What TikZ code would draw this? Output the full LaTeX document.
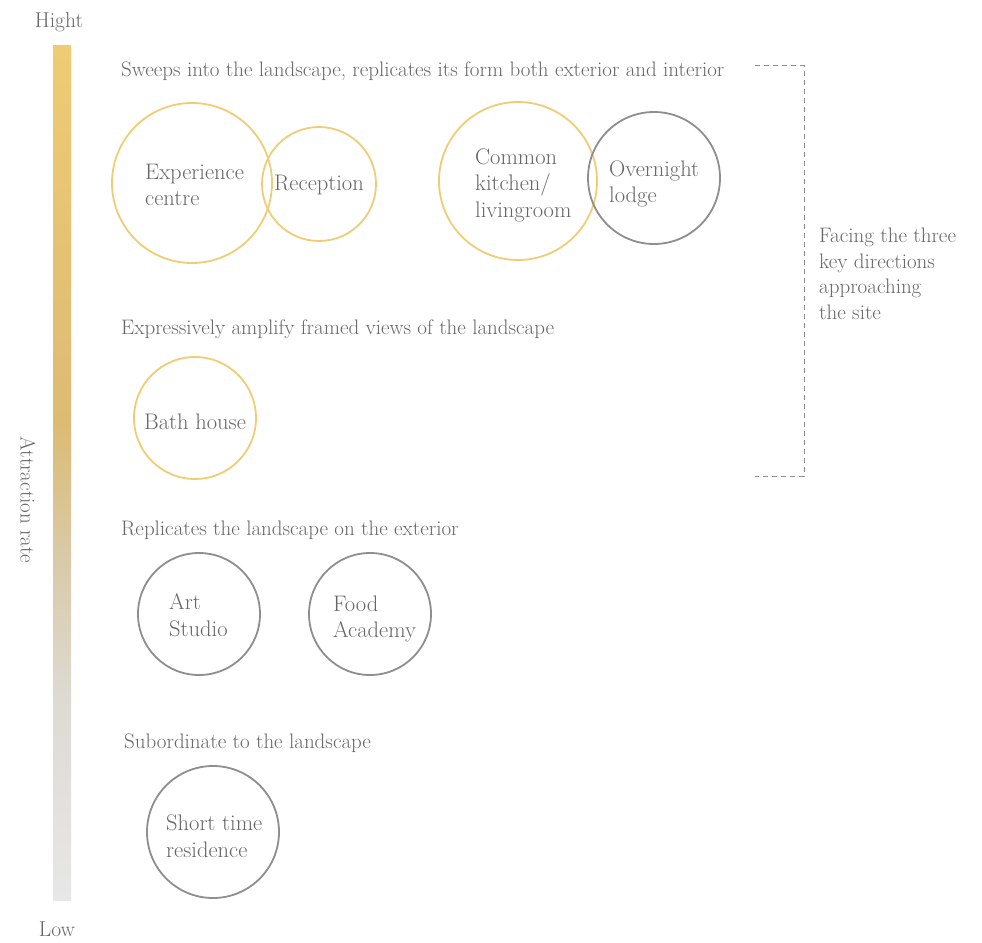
\documentclass[tikz,border=0pt]{standalone}
\usepackage{fontspec}
\definecolor{ylw}{HTML}{F0CD75}
\definecolor{gry}{HTML}{8E8E8E}
\definecolor{txt}{HTML}{666666}
\definecolor{bartop}{HTML}{F0CB74}
\definecolor{barmid}{HTML}{DCBB73}
\definecolor{barlow}{HTML}{D9CAA8}
\definecolor{barlow2}{HTML}{DDDAD2}
\definecolor{barbot}{HTML}{E7E7E7}
\pgfdeclareverticalshading{barshade}{100bp}{color(0bp)=(barbot); color(25bp)=(barbot); color(37bp)=(barlow2); color(45bp)=(barlow); color(53bp)=(barmid); color(75bp)=(bartop); color(100bp)=(bartop)}
\tikzset{
  ring/.style={circle, draw=ylw, line width=1.8pt, inner sep=0pt},
  gring/.style={circle, draw=gry, line width=1.8pt, inner sep=0pt},
  lbl/.style={text=txt, font=\fontsize{22.5}{26.5}\selectfont, align=left, inner sep=0pt},
  head/.style={text=txt, font=\fontsize{21}{24}\selectfont, anchor=west, inner sep=0pt},
}
\begin{document}
\begin{tikzpicture}[x=1pt,y=-1pt]
\useasboundingbox (0,0) rectangle (982,942);
% bar
\shade[shading=barshade] (53,46) rectangle (71,900);
\node[text=txt, font=\fontsize{21.5}{24}\selectfont, inner sep=0pt] (hi) at (59,22) {Hight};
\node[text=txt, font=\fontsize{21.5}{24}\selectfont, inner sep=0pt] (lo) at (57,929) {Low};
\node[text=txt, font=\fontsize{21}{24}\selectfont, inner sep=0pt, rotate=-90] (ar) at (28,500) {Attraction rate};
% headings
\node[head] (h1) at (121,71) {Sweeps into the landscape, replicates its form both exterior and interior};
\node[head] (h2) at (121,329) {Expressively amplify framed views of the landscape};
\node[head] (h3) at (121,530) {Replicates the landscape on the exterior};
\node[head] (h4) at (124,743) {Subordinate to the landscape};
% circles
\node[ring, minimum size=160pt] (exp) at (192,183) {};
\node[ring, minimum size=114pt] (rec) at (319,184) {};
\node[ring, minimum size=158pt] (kit) at (518,181) {};
\node[gring, minimum size=132pt] (lod) at (654,178) {};
\node[ring, minimum size=122pt] (bath) at (195,418) {};
\node[gring, minimum size=122pt] (art) at (199,614) {};
\node[gring, minimum size=122pt] (food) at (370,614) {};
\node[gring, minimum size=132pt] (res) at (213,832) {};
% labels
\node[lbl, anchor=west] (texp) at (145,185) {Experience\\centre};
\node[lbl] (trec) at (319,185) {Reception};
\node[lbl, anchor=west] (tkit) at (475,185) {Common\\kitchen/\\livingroom};
\node[lbl, anchor=west] (tlod) at (609,184) {Overnight\\lodge};
\node[lbl] (tbath) at (195,422) {Bath house};
\node[lbl, anchor=west] (tart) at (169,615) {Art\\Studio};
\node[lbl, anchor=west] (tfood) at (333,619) {Food\\Academy};
\node[lbl, anchor=west] (tres) at (166,836) {Short time\\residence};
% bracket
\coordinate (b1) at (755,66);
\coordinate (b2) at (804,66);
\coordinate (b3) at (804,476);
\coordinate (b4) at (755,476);
\draw[gry, line width=1pt, dash pattern=on 5pt off 4pt] (b1) -- (b2) -- (b3) -- (b4);
\node[text=txt, font=\fontsize{21}{25.5}\selectfont, align=left, anchor=west, inner sep=0pt] (face) at (819,274) {Facing the three\\key directions\\approaching\\the site};
\end{tikzpicture}
\end{document}
